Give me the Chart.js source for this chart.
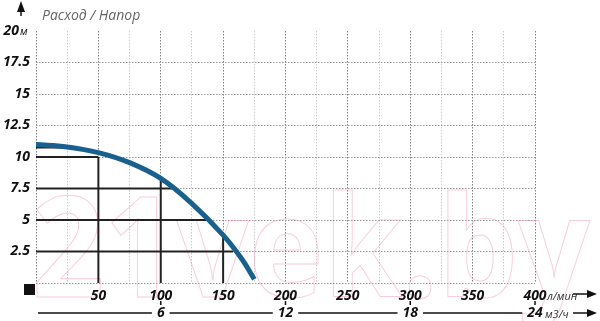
<!DOCTYPE html>
<html>
<head>
<meta charset="utf-8">
<script src="https://cdn.jsdelivr.net/npm/chart.js@4"></script>
<style>
  html, body { margin: 0; padding: 0; background: #fff; }
  #wrap { width: 600px; height: 321px; }
</style>
</head>
<body>
<div id="wrap"><canvas id="pump"></canvas></div>
<script>
// pump curve, flow in l/min, head in m
const flowLmin = [0, 25, 50, 75, 100, 125, 150, 165, 175];
const headM = [11.0, 10.8, 10.35, 9.55, 8.3, 6.3, 3.8, 1.9, 0.3];

// black helper lines
const levelY = [10.75, 10, 7.5, 5, 2.5];
const levelEndX = [30, 50, 109, 139, 158];
const dropX = [50, 100, 150];
const dropTopY = [10, 8.3, 3.8];

// tick labels
const yTicks = [2.5, 5, 7.5, 10, 12.5, 15, 17.5, 20];
const xTicks = [50, 100, 150, 200, 250, 300, 350, 400];
const x2Ticks = [6, 12, 18, 24];

const FONT = "'Open Sans', 'DejaVu Sans', sans-serif";

var datasets = [{
  data: flowLmin.map((x, i) => ({ x: x, y: headM[i] })),
  borderColor: '#19608e',
  borderWidth: 5,
  pointRadius: 0,
  tension: 0.4,
  order: 0
}];
levelY.forEach(function(y, i) {
  datasets.push({
    data: [{ x: 0, y: y }, { x: levelEndX[i], y: y }],
    borderColor: '#222', borderWidth: 2, pointRadius: 0, order: 1
  });
});
dropX.forEach(function(x, i) {
  datasets.push({
    data: [{ x: x, y: dropTopY[i] }, { x: x, y: 0 }],
    borderColor: '#222', borderWidth: 2, pointRadius: 0, order: 1
  });
});

function arrowRight(ctx, x1, x2, y) {
  ctx.beginPath();
  ctx.moveTo(x1, y);
  ctx.lineTo(x2 - 8, y);
  ctx.stroke();
  ctx.beginPath();
  ctx.moveTo(x2, y);
  ctx.lineTo(x2 - 10, y - 4);
  ctx.lineTo(x2 - 10, y + 4);
  ctx.closePath();
  ctx.fill();
}

const watermark = {
  id: 'watermark',
  beforeDatasetsDraw(chart) {
    const ctx = chart.ctx;
    ctx.save();
    ctx.font = 'bold 140px ' + FONT;
    const w = ctx.measureText('21vek.by').width;
    ctx.translate(32, 297);
    ctx.scale(558 / w, 1);
    ctx.strokeStyle = 'rgba(242,140,175,0.45)';
    ctx.lineWidth = 1;
    ctx.strokeText('21vek.by', 0, 0);
    ctx.restore();
  }
};

const labels = {
  id: 'labels',
  afterDraw(chart) {
    const ctx = chart.ctx;
    const xs = chart.scales.x, ys = chart.scales.y, x2 = chart.scales.x2;
    ctx.save();
    ctx.fillStyle = '#111';
    ctx.strokeStyle = '#111';

    // y labels
    ctx.font = 'italic bold 14px ' + FONT;
    ctx.textBaseline = 'middle';
    ctx.textAlign = 'right';
    yTicks.forEach(function(v) {
      const py = ys.getPixelForValue(v);
      if (v === 20) {
        ctx.fillText('20', 19, py);
      } else {
        ctx.fillText(String(v), 30, py);
      }
    });
    ctx.textAlign = 'left';
    ctx.font = 'italic 11px ' + FONT;
    ctx.fillText('м', 20, ys.getPixelForValue(20) + 1);

    // x labels l/min
    ctx.textAlign = 'center';
    ctx.font = 'italic bold 14px ' + FONT;
    xTicks.forEach(function(v) {
      ctx.fillText(String(v), xs.getPixelForValue(v), 296);
    });
    ctx.textAlign = 'left';
    ctx.font = 'italic 11px ' + FONT;
    ctx.fillStyle = '#333';
    ctx.fillText('л/мин', xs.getPixelForValue(400) + 12, 297);
    ctx.fillStyle = '#111';
    ctx.lineWidth = 1.5;
    arrowRight(ctx, 573, 597, 294);

    // second axis m3/h
    const yy = 313;
    ctx.textAlign = 'center';
    ctx.font = 'italic bold 14px ' + FONT;
    let prev = xs.getPixelForValue(0) + 2;
    x2Ticks.forEach(function(v) {
      const px = x2.getPixelForValue(v);
      const tw = ctx.measureText(String(v)).width;
      ctx.fillText(String(v), px, yy);
      ctx.beginPath();
      ctx.moveTo(prev, yy);
      ctx.lineTo(px - tw / 2 - 5, yy);
      ctx.stroke();
      prev = px + tw / 2 + 5;
      ctx.beginPath();
      ctx.moveTo(px, 301);
      ctx.lineTo(px, 305);
      ctx.stroke();
    });
    ctx.textAlign = 'left';
    ctx.font = 'italic 11px ' + FONT;
    ctx.fillStyle = '#333';
    ctx.fillText('м3/ч', x2.getPixelForValue(24) + 10, yy + 2);
    ctx.fillStyle = '#111';
    arrowRight(ctx, 573, 597, yy);

    // title and vertical arrow
    ctx.font = 'italic 14px ' + FONT;
    ctx.fillStyle = '#666';
    ctx.textBaseline = 'alphabetic';
    ctx.fillText('Расход / Напор', 42, 20);
    ctx.fillStyle = '#111';
    ctx.beginPath();
    ctx.moveTo(21, 1);
    ctx.lineTo(17, 12);
    ctx.lineTo(25, 12);
    ctx.closePath();
    ctx.fill();
    ctx.lineWidth = 1.5;
    ctx.beginPath();
    ctx.moveTo(21, 10);
    ctx.lineTo(21, 16);
    ctx.stroke();

    // origin block
    ctx.fillRect(24, 284, 11, 11);
    ctx.restore();
  }
};

new Chart(document.getElementById('pump'), {
  type: 'line',
  data: { datasets: datasets },
  plugins: [watermark, labels],
  options: {
    responsive: true,
    maintainAspectRatio: false,
    animation: false,
    layout: { padding: { left: 36, right: 65, top: 31, bottom: 38 } },
    plugins: { legend: { display: false }, tooltip: { enabled: false } },
    scales: {
      x: {
        type: 'linear', min: 0, max: 400,
        ticks: { display: false, stepSize: 25 },
        border: { display: false, dash: [1.5, 1.5] },
        grid: {
          drawTicks: false,
          lineWidth: 1,
          color: function(c) {
            return c.tick.value % 50 === 0 ? '#808080' : '#cccccc';
          }
        }
      },
      x2: {
        type: 'linear', min: 0, max: 24, display: false
      },
      y: {
        type: 'linear', min: 0, max: 20,
        ticks: { display: false, stepSize: 2.5 },
        border: { display: false, dash: [1.5, 1.5] },
        grid: {
          drawTicks: false,
          lineWidth: 1,
          color: function(c) {
            return c.tick.value === 20 ? 'rgba(0,0,0,0)' : '#999999';
          }
        }
      }
    }
  }
});
</script>
</body>
</html>
